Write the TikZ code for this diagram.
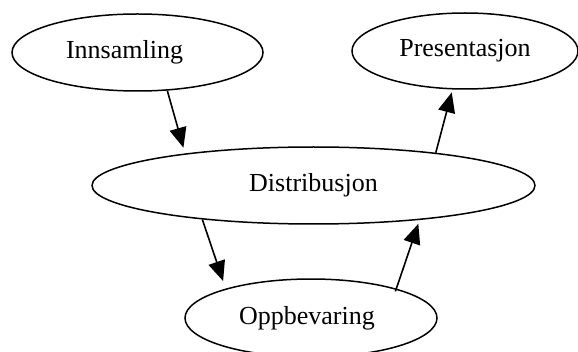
\documentclass[tikz,border=0pt]{standalone}
\usepackage{fontspec}
\setmainfont{Liberation Serif}
\usetikzlibrary{arrows.meta,shapes.geometric}
\begin{document}
\begin{tikzpicture}[x=1pt,y=1pt,
  nd/.style={draw,ellipse,line width=1.5pt,inner sep=0pt,font=\fontsize{26}{30}\selectfont},
  ed/.style={line width=1.6pt,-{Triangle[length=20pt,width=17pt]}}]
\useasboundingbox (0,0) rectangle (578,351);
\node[nd,minimum width=251pt,minimum height=77pt] (inn) at (137.5,298.5) {Innsamling\rule{26pt}{0pt}};
\node[nd,minimum width=226pt,minimum height=76pt] (pres) at (465,300) {Presentasjon};
\node[nd,minimum width=443pt,minimum height=77pt] (dist) at (313.5,165.5) {Distribusjon};
\node[nd,minimum width=252pt,minimum height=78pt] (opp) at (311,33) {Oppbevaring\rule{8pt}{0pt}};
\draw[ed,shorten >=6pt] (inn.-52) -- (dist.166.2);
\draw[ed,shorten >=3pt] (dist.15.2) -- (pres.252.4);
\draw[ed,shorten >=8pt] (dist.197.2) -- (opp.161.7);
\draw[ed,shorten >=4pt,shorten <=-3pt] (opp.19) -- (dist.-18.6);
\end{tikzpicture}
\end{document}
